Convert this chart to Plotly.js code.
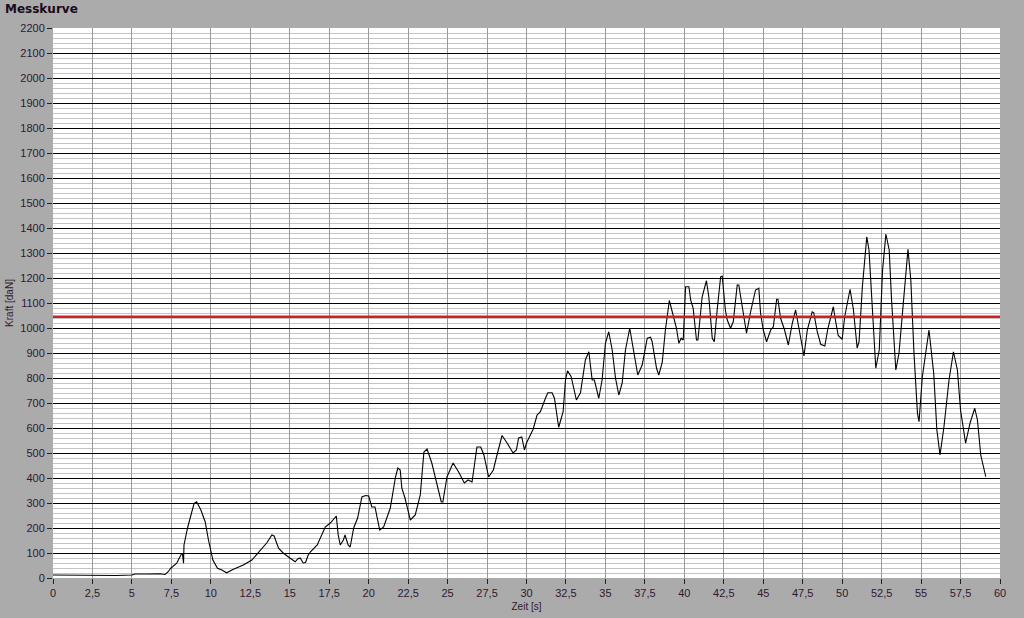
<!DOCTYPE html>
<html>
<head>
<meta charset="utf-8">
<script src="https://cdn.plot.ly/plotly-3.0.1.min.js"></script>
<style>html,body{margin:0;padding:0;background:#ababab;}#chart{width:1024px;height:618px;}</style>
</head>
<body>
<div id="chart"></div>
<script>
const zeit = [0,1,2,3,4,5,5.2,6,6.8,7.1,7.3,7.46,7.84,8.1,8.2,8.27,8.3,8.52,8.75,8.94,9.1,9.37,9.64,9.85,10.13,10.42,10.7,11.0,11.43,12.06,12.6,13.13,13.55,13.87,14.01,14.29,14.6,15.03,15.35,15.5,15.66,15.85,16.0,16.17,16.3,16.74,17.25,17.57,17.8,17.95,18.07,18.2,18.4,18.5,18.7,18.83,19.05,19.3,19.57,19.8,20.0,20.2,20.4,20.7,20.95,21.37,21.7,21.85,22.0,22.1,22.3,22.64,22.95,23.27,23.5,23.7,24.0,24.3,24.6,24.7,24.96,25.35,25.7,26.06,26.3,26.55,26.86,27.1,27.3,27.6,27.9,28.1,28.45,28.77,29.15,29.36,29.5,29.7,29.87,30.0,30.2,30.42,30.67,30.88,31.2,31.35,31.62,31.77,32.04,32.32,32.47,32.6,32.83,33.16,33.42,33.73,33.95,34.16,34.3,34.58,34.79,35.0,35.21,35.43,35.64,35.85,36.06,36.27,36.54,36.8,37.05,37.33,37.65,37.86,37.96,38.24,38.38,38.6,38.8,39.05,39.3,39.5,39.65,39.8,39.93,40.08,40.29,40.4,40.56,40.77,40.86,41.13,41.4,41.55,41.77,41.9,42.08,42.3,42.4,42.6,42.72,42.93,43.1,43.35,43.45,43.67,43.94,44.2,44.51,44.72,44.83,45.0,45.21,45.47,45.64,45.85,45.93,46.1,46.27,46.35,46.59,46.84,47.05,47.32,47.58,47.79,48.1,48.2,48.42,48.64,48.9,49.1,49.44,49.59,49.75,50.0,50.16,50.5,50.71,50.95,51.07,51.28,51.5,51.56,51.7,51.92,52.13,52.35,52.56,52.77,52.98,53.13,53.4,53.6,53.88,54.17,54.35,54.55,54.77,54.87,55.08,55.5,55.8,56.0,56.2,56.45,56.77,57.05,57.3,57.5,57.82,58.1,58.4,58.57,58.78,59.1];
const kraft = [12,11,11,11,10,12,16,16,17,14,25,39,59,92,99,59,132,199,252,299,305,272,225,152,72,39,32,21,35,52,72,112,141,172,168,119,99,79,65,76,80,60,62,92,104,132,204,220,236,248,172,132,152,172,132,124,200,240,324,330,328,284,284,192,204,280,404,440,432,360,320,232,252,332,504,516,460,380,304,304,404,460,424,380,392,384,524,524,492,404,432,484,570,540,500,512,560,564,512,540,565,595,652,665,719,741,741,719,603,665,792,829,805,712,741,872,905,792,792,719,792,939,985,912,799,732,779,912,999,899,812,852,959,963,945,839,812,862,992,1110,1045,1000,939,959,952,1165,1165,1112,1079,952,952,1125,1189,1125,959,945,1072,1205,1208,1072,1032,999,1025,1172,1172,1079,979,1065,1152,1159,1059,992,945,992,1005,1115,1115,1039,1005,992,932,1019,1072,979,888,992,1065,1061,985,935,928,999,1085,1025,970,955,1045,1155,1075,920,945,1165,1352,1365,1312,1072,839,912,1232,1376,1312,1112,832,899,1099,1315,1192,899,659,625,805,992,819,592,492,605,792,905,832,672,539,619,679,632,492,405];
const grenzwert = 1045;
const xTickVals = [0,2.5,5,7.5,10,12.5,15,17.5,20,22.5,25,27.5,30,32.5,35,37.5,40,42.5,45,47.5,50,52.5,55,57.5,60];
const xTickLabels = ["0","2,5","5","7,5","10","12,5","15","17,5","20","22,5","25","27,5","30","32,5","35","37,5","40","42,5","45","47,5","50","52,5","55","57,5","60"];
const titel = "Messkurve";
const xTitel = "Zeit [s]";
const yTitel = "Kraft [daN]";

const txtColor = '#301830';
const trace = {
  x: zeit, y: kraft, type: 'scatter', mode: 'lines',
  line: {color: '#000000', width: 1.1}, hoverinfo: 'skip', showlegend: false
};
const layout = {
  width: 1024, height: 618,
  paper_bgcolor: '#ababab', plot_bgcolor: '#ffffff',
  margin: {l: 53, r: 24, t: 28, b: 40},
  font: {family: 'Liberation Sans, DejaVu Sans, sans-serif', size: 11, color: txtColor},
  title: {text: '<b>' + titel + '</b>', x: 5/1024, xref: 'container', xanchor: 'left',
          y: 1 - 9/618, yref: 'container', yanchor: 'middle',
          font: {family: 'DejaVu Sans, sans-serif', size: 12, color: '#1a0a1a'}},
  xaxis: {
    range: [0, 60], tickmode: 'array', tickvals: xTickVals, ticktext: xTickLabels,
    showgrid: true, gridcolor: '#9a9a9a', gridwidth: 1, zeroline: false, showline: false,
    ticks: 'outside', ticklen: 5, tickcolor: '#222222', tickwidth: 1,
    tickfont: {size: 11, color: txtColor},
    title: {text: xTitel, standoff: 4, font: {size: 10, color: txtColor}}
  },
  yaxis: {
    range: [0, 2200], tickmode: 'linear', tick0: 0, dtick: 100,
    showgrid: true, gridcolor: '#000000', gridwidth: 1, zeroline: false, showline: false,
    ticks: 'outside', ticklen: 5, tickcolor: '#222222', tickwidth: 1,
    tickfont: {size: 11, color: txtColor},
    minor: {dtick: 20, showgrid: true, gridcolor: '#c4c4c4', gridwidth: 1, ticks: ''},
    title: {text: yTitel, standoff: 4, font: {size: 10, color: txtColor}}
  },
  shapes: [{type: 'line', xref: 'paper', x0: 0, x1: 1, yref: 'y', y0: grenzwert, y1: grenzwert,
            line: {color: '#d02020', width: 2.5}, layer: 'above'}]
};
Plotly.newPlot('chart', [trace], layout, {displayModeBar: false, staticPlot: true});
</script>
</body>
</html>
